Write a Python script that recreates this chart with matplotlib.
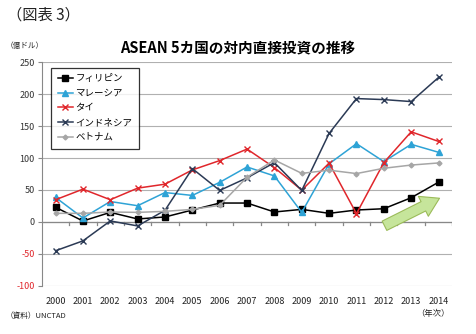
import matplotlib

matplotlib.use("Agg")
import matplotlib.pyplot as plt
from matplotlib.patches import FancyArrowPatch

plt.rcParams["font.family"] = ["Noto Sans CJK JP", "DejaVu Sans"]

years = [str(y) for y in range(2000, 2015)]
philippines = [23, 1.5, 15, 4.7, 7.8, 18.7, 29.6, 29.6, 15.6, 19.7, 13.5, 18.7, 20.7, 37.9, 62.2]
malaysia = [38.4, 6.2, 32, 25.4, 46, 41.5, 62, 86, 72, 15, 91, 122.4, 94.4, 121.4, 109]
thailand = [34.8, 51.3, 34.8, 52.9, 59.1, 81.4, 96, 114, 85, 49.8, 92, 13, 92.8, 141, 126]
indonesia = [-45, -29.6, 1.6, -6.2, 18.2, 83.5, 49.3, 69, 92.8, 49.3, 138.5, 193, 191.4, 188.3, 226]
vietnam = [13.5, 13.5, 15.6, 15, 16.6, 19.7, 26, 70, 97, 76, 81, 75.7, 84, 89, 92.3]
yticks = [-100, -50, 0, 50, 100, 150, 200, 250]

series = [
    ("フィリピン", philippines, "#000000", "s", 4.5),
    ("マレーシア", malaysia, "#2EA3D6", "^", 4),
    ("タイ", thailand, "#E0262B", "x", 4.5),
    ("インドネシア", indonesia, "#2B3A55", "x", 4.5),
    ("ベトナム", vietnam, "#A6A6A6", "D", 2.5),
]

fig = plt.figure(figsize=(4.76, 3.34), dpi=100)
ax = fig.add_axes([0.088, 0.144, 0.862, 0.670])
x = list(range(len(years)))

for name, vals, color, marker, ms in series:
    ax.plot(x, vals, color=color, marker=marker, markersize=ms, linewidth=1.1,
            markeredgewidth=1.0, label=name, zorder=3)

ax.set_xlim(-0.5, len(years) - 0.5)
ax.set_ylim(-100, 250)
ax.set_yticks(yticks)
ax.set_yticklabels([str(v) for v in yticks], fontsize=6.5, color="#333333")
for lab, v in zip(ax.get_yticklabels(), yticks):
    if v < 0:
        lab.set_color("#E0262B")
ax.tick_params(axis="y", length=3, color="#888888", pad=2)
ax.grid(axis="y", color="#B0B0B0", linewidth=0.8)
ax.set_axisbelow(True)
for s in ["top", "right", "bottom"]:
    ax.spines[s].set_visible(False)
ax.spines["left"].set_color("#888888")

# category labels at the bottom, axis line through zero
ax.set_xticks(x)
ax.set_xticklabels(years, fontsize=6.5, color="#222222")
ax.tick_params(axis="x", length=0, pad=8)
ax.axhline(0, color="#888888", linewidth=0.9, zorder=2)
for i in range(len(years)):
    ax.plot([i + 0.5, i + 0.5], [0, -4], color="#888888", linewidth=0.9, zorder=2)

leg = ax.legend(loc="upper left", bbox_to_anchor=(0.022, 0.975), borderaxespad=0,
                fontsize=6.8, frameon=True, fancybox=False, handlelength=1.6,
                handletextpad=0.3, borderpad=0.7, labelspacing=0.6)
leg.get_frame().set_edgecolor("#000000")
leg.get_frame().set_linewidth(0.9)

arrow = FancyArrowPatch((382, 334 - 227), (442, 334 - 197), transform=None,
                        arrowstyle="simple,head_width=1.6,head_length=1.3,tail_width=0.75",
                        mutation_scale=10, facecolor="#C6E59B", edgecolor="#9BBB59",
                        linewidth=0.8, zorder=4)
fig.patches.append(arrow)

fig.text(0.015, 0.955, "（図表 3）", fontsize=11, ha="left", va="center", color="#222222")
fig.text(0.012, 0.862, "（億ドル）", fontsize=5.5, ha="left", va="center", color="#222222")
fig.text(0.5, 0.858, "ASEAN 5カ国の対内直接投資の推移", fontsize=10.5, fontweight="bold",
         ha="center", va="center")
fig.text(0.012, 0.055, "（資料）UNCTAD", fontsize=5.5, ha="left", va="center", color="#222222")
fig.text(0.91, 0.062, "（年次）", fontsize=6, ha="center", va="center", color="#222222")

fig.savefig("out.png", dpi=100)
